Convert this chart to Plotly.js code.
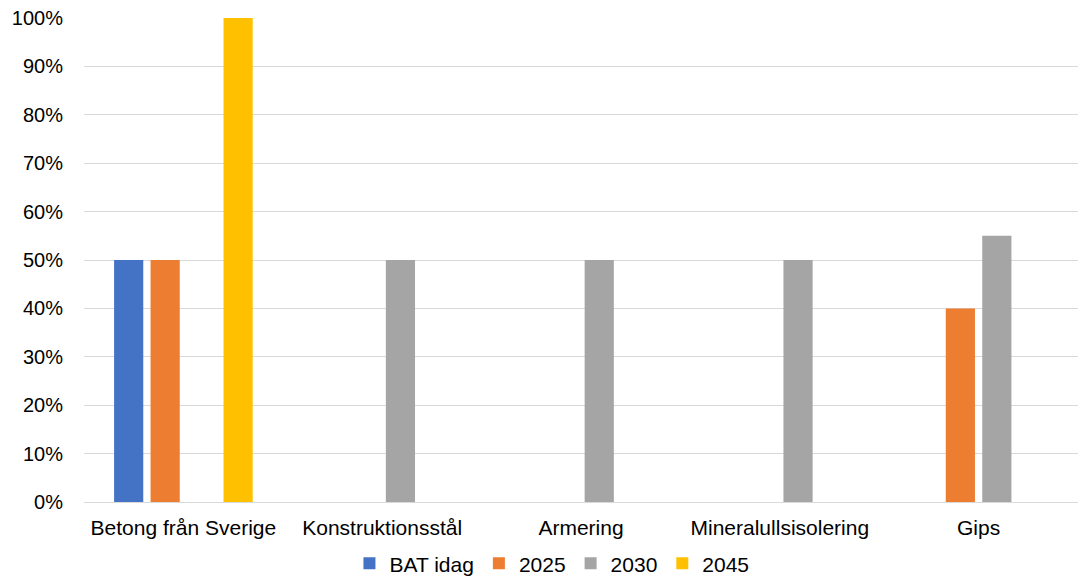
<!DOCTYPE html>
<html>
<head>
<meta charset="utf-8">
<script src="https://cdn.plot.ly/plotly-3.0.1.min.js"></script>
<style>html,body{margin:0;padding:0;background:#fff;}#chart{width:1078px;height:576px;}</style>
</head>
<body>
<div id="chart"></div>
<script>
const categories = ["Betong från Sverige", "Konstruktionsstål", "Armering", "Mineralullsisolering", "Gips"];
const seriesNames = ["BAT idag", "2025", "2030", "2045"];
const batIdag = [0.50, null, null, null, null];
const y2025 = [0.50, null, null, null, 0.40];
const y2030 = [null, 0.50, 0.50, 0.50, 0.55];
const y2045 = [1.00, null, null, null, null];
const colors = ["#4472C4", "#ED7D31", "#A5A5A5", "#FFC000"];
const yTickVals = [0, 0.1, 0.2, 0.3, 0.4, 0.5, 0.6, 0.7, 0.8, 0.9, 1.0];
const yTickText = ["0%", "10%", "20%", "30%", "40%", "50%", "60%", "70%", "80%", "90%", "100%"];

const allSeries = [batIdag, y2025, y2030, y2045];
const data = allSeries.map((vals, i) => ({
  type: "bar",
  name: seriesNames[i],
  x: categories,
  y: vals,
  marker: {color: colors[i]},
  hoverinfo: "skip"
}));

const font = {family: "Liberation Sans, Arial, sans-serif", size: 21, color: "#000"};
const yfont = {family: "Liberation Sans, Arial, sans-serif", size: 20, color: "#000"};
const layout = {
  width: 1078, height: 576,
  margin: {l: 84, r: 0, t: 18, b: 74},
  paper_bgcolor: "#fff", plot_bgcolor: "#fff",
  font: font,
  barmode: "group",
  bargap: 0.266,
  bargroupgap: 0.2,
  showlegend: true,
  legend: {orientation: "h", x: 0.512, xref: "container", xanchor: "center", y: 0.057, yref: "container", yanchor: "top", bgcolor: "rgba(0,0,0,0)", font: font, itemwidth: 30, tracegroupgap: 0},
  xaxis: {
    type: "category",
    showgrid: false,
    showline: true, linecolor: "#D9D9D9", linewidth: 1,
    ticks: "", ticklabelstandoff: 7,
    tickfont: font,
    fixedrange: true
  },
  yaxis: {
    range: [0, 1.0],
    tickvals: yTickVals, ticktext: yTickText,
    showgrid: true, gridcolor: "#D9D9D9", gridwidth: 1,
    zeroline: false, showline: false,
    ticks: "", ticklabelstandoff: 20,
    tickfont: yfont,
    fixedrange: true
  }
};
Plotly.newPlot("chart", data, layout, {displayModeBar: false, staticPlot: true});
</script>
</body>
</html>
